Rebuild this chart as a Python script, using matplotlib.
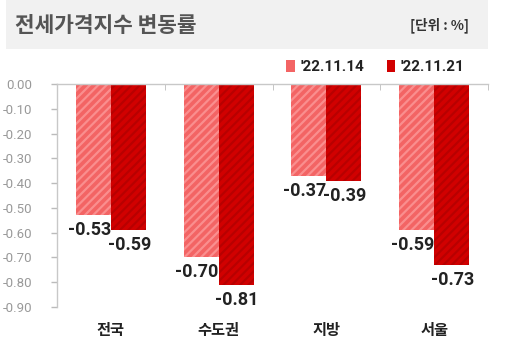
import matplotlib
matplotlib.use("Agg")
import matplotlib.pyplot as plt
from matplotlib.patches import Rectangle, Patch
import numpy as np

categories = ["전국", "수도권", "지방", "서울"]
series_names = ["'22.11.14", "'22.11.21"]
vals_1114 = [-0.53, -0.70, -0.37, -0.59]
vals_1121 = [-0.59, -0.81, -0.39, -0.73]
yticks = [0.0, -0.1, -0.2, -0.3, -0.4, -0.5, -0.6, -0.7, -0.8, -0.9]

KR = ['Noto Sans CJK KR', 'DejaVu Sans']
NUM = ['Roboto', 'DejaVu Sans']

plt.rcParams['hatch.linewidth'] = 1.6

W, H = 505, 352
fig = plt.figure(figsize=(W / 100, H / 100), dpi=100)

# title band
fig.patches.append(Rectangle((6 / W, 1 - 49 / H), (488 - 6) / W, 49 / H,
                             transform=fig.transFigure, facecolor='#F1F1F1',
                             edgecolor='none', zorder=0))
fig.text(15 / W, 1 - 26 / H, "전세가격지수 변동률", family=KR, fontsize=15.4,
         fontweight='bold', color='#555555', va='center', ha='left')
fig.text(469 / W, 1 - 25 / H, "[단위 : %]", family=KR, fontsize=9.8,
         fontweight='bold', color='#333333', va='center', ha='right')

ax = fig.add_axes([57 / W, 1 - 307 / H, (488 - 57) / W, (307 - 84) / H])
x = np.arange(len(categories))
bw = 0.325
light = '#F36464'
light_h = '#FA8E8E'
dark = '#D10000'
dark_h = '#B80000'
ax.bar(x - bw / 2, vals_1114, bw, color=light, edgecolor=light_h,
       hatch='////', linewidth=0, zorder=2)
ax.bar(x + bw / 2, vals_1121, bw, color=dark, edgecolor=dark_h,
       hatch='////', linewidth=0, zorder=2)

for xi, v in zip(x, vals_1114):
    ax.annotate(f"{v:.2f}", (xi - bw / 2, v), xytext=(-4, -6),
                textcoords='offset pixels', ha='center', va='top',
                family=NUM, fontsize=13, fontweight='bold', color='#222222')
for xi, v in zip(x, vals_1121):
    ax.annotate(f"{v:.2f}", (xi + bw / 2, v), xytext=(1, -6),
                textcoords='offset pixels', ha='center', va='top',
                family=NUM, fontsize=13, fontweight='bold', color='#222222')

ax.set_xlim(-0.5, len(categories) - 0.5)
ax.set_ylim(-0.9, 0)
ax.set_yticks(yticks)
ax.set_yticklabels([f"{t:.2f}" if t == 0 else f"-{abs(t):.2f}" for t in yticks],
                   family=NUM, fontsize=9.5, color='#999999')
ax.tick_params(axis='y', length=4, color='#BBBBBB', pad=14, width=1)

ax.set_xticks(x)
ax.set_xticklabels(categories, family=KR, fontsize=11, fontweight='bold',
                   color='#222222')
ax.tick_params(axis='x', which='major', length=0, pad=11)
ax.set_xticks(np.arange(0.5, len(categories), 1.0), minor=True)
ax.tick_params(axis='x', which='minor', bottom=False, top=True, direction='in',
               length=4, color='#BBBBBB')

for s in ['bottom', 'right']:
    ax.spines[s].set_visible(False)
for s in ['left', 'top']:
    ax.spines[s].set_color('#C8C8C8')
    ax.spines[s].set_linewidth(1)
ax.spines['top'].set_zorder(3)

handles = [Patch(facecolor=light, edgecolor='none'),
           Patch(facecolor=dark, edgecolor='none')]
leg = fig.legend(handles, series_names, loc='center right',
                 bbox_to_anchor=(478 / W, 1 - 67 / H), ncol=2, frameon=False,
                 handlelength=0.55, handleheight=0.8, handletextpad=0.35,
                 columnspacing=1.5, prop={'family': 'Roboto',
                                          'weight': 'bold', 'size': 11})
for t in leg.get_texts():
    t.set_color('#222222')

fig.savefig("out.png", dpi=100)
